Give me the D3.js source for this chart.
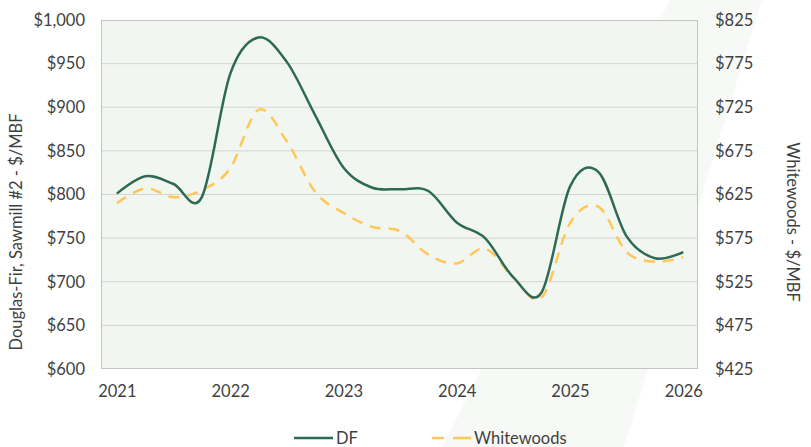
<!DOCTYPE html>
<html>
<head>
<meta charset="utf-8">
<script src="https://cdn.jsdelivr.net/npm/d3@7"></script>
<style>
  html, body { margin: 0; padding: 0; background: #ffffff; }
  svg { display: block; font-family: "Lato", "Open Sans", sans-serif; }
</style>
</head>
<body>
<svg id="chart" width="811" height="447"></svg>
<script>
// ---- Data ----
const quarters = [2021, 2021.25, 2021.5, 2021.75, 2022, 2022.25, 2022.5, 2022.75,
                  2023, 2023.25, 2023.5, 2023.75, 2024, 2024.25, 2024.5, 2024.75,
                  2025, 2025.25, 2025.5, 2025.75, 2026];
const dfValues = [801, 821, 812, 797, 938, 980, 952, 891, 831, 808, 806, 804,
                  768, 750, 705, 688, 809, 826, 752, 727, 734];
const wwValues = [615, 632, 622, 630, 655, 722, 686, 628, 604, 588, 583, 556,
                  546, 563, 530, 507, 592, 611, 559, 548, 553];
const xTicks = [2021, 2022, 2023, 2024, 2025, 2026];
const leftTicks = [600, 650, 700, 750, 800, 850, 900, 950, 1000];
const rightTicks = [425, 475, 525, 575, 625, 675, 725, 775, 825];
const seriesNames = ["DF", "Whitewoods"];
const leftTitle = "Douglas-Fir, Sawmill #2 - $/MBF";
const rightTitle = "Whitewoods - $/MBF";

// ---- Layout ----
const svg = d3.select("#chart");
const plot = { left: 101, right: 698, top: 20, bottom: 369 };
const textColor = "#3f3f3f";

// background diagonal band
svg.append("polygon")
  .attr("points", "670,0 762,0 624,447 442,447")
  .attr("fill", "#f7f9f6");

const x = d3.scaleLinear().domain([2020.86, 2026.13]).range([plot.left, plot.right]);
const yL = d3.scaleLinear().domain([600, 1000]).range([plot.bottom, plot.top]);
const yR = d3.scaleLinear().domain([425, 825]).range([plot.bottom, plot.top]);

// plot background
svg.append("rect")
  .attr("x", plot.left).attr("y", plot.top)
  .attr("width", plot.right - plot.left).attr("height", plot.bottom - plot.top)
  .attr("fill", "#f2f6f0");

// gridlines
svg.append("g").selectAll("line")
  .data(leftTicks.slice(1, -1))
  .join("line")
  .attr("x1", plot.left).attr("x2", plot.right)
  .attr("y1", d => yL(d)).attr("y2", d => yL(d))
  .attr("stroke", "#d4d4d4").attr("stroke-width", 1);

// plot border
svg.append("rect")
  .attr("x", plot.left + 0.5).attr("y", plot.top + 0.5)
  .attr("width", plot.right - plot.left - 1).attr("height", plot.bottom - plot.top - 1)
  .attr("fill", "none").attr("stroke", "#c4c4c4").attr("stroke-width", 1);

const fmt = d => "$" + d3.format(",")(d);

// left axis
const gL = svg.append("g")
  .attr("transform", `translate(${plot.left - 16},0)`)
  .call(d3.axisLeft(yL).tickValues(leftTicks).tickFormat(fmt).tickSize(0).tickPadding(0));
gL.select(".domain").remove();
gL.selectAll("text").attr("font-size", 16.5).attr("fill", textColor)
  .attr("font-family", "Lato, 'Open Sans', sans-serif");

// right axis
const gR = svg.append("g")
  .attr("transform", `translate(${plot.right + 17},0)`)
  .call(d3.axisRight(yR).tickValues(rightTicks).tickFormat(fmt).tickSize(0).tickPadding(0));
gR.select(".domain").remove();
gR.selectAll("text").attr("font-size", 16.5).attr("fill", textColor)
  .attr("font-family", "Lato, 'Open Sans', sans-serif");

// bottom axis
const gB = svg.append("g")
  .attr("transform", `translate(0,${plot.bottom + 16})`)
  .call(d3.axisBottom(x).tickValues(xTicks).tickFormat(d3.format("d")).tickSize(0).tickPadding(0));
gB.select(".domain").remove();
gB.selectAll("text").attr("font-size", 16.5).attr("fill", textColor)
  .attr("font-family", "Lato, 'Open Sans', sans-serif");

// axis titles
svg.append("text")
  .attr("transform", `translate(22,232) rotate(-90)`)
  .attr("text-anchor", "middle")
  .attr("font-size", 16.5).attr("fill", textColor)
  .text(leftTitle);
svg.append("text")
  .attr("transform", `translate(787,222) rotate(90)`)
  .attr("text-anchor", "middle")
  .attr("font-size", 16.5).attr("fill", textColor)
  .text(rightTitle);

// lines
const curve = d3.curveCatmullRom.alpha(0);
const lineL = d3.line().x((d, i) => x(quarters[i])).y(d => yL(d)).curve(curve);
const lineR = d3.line().x((d, i) => x(quarters[i])).y(d => yR(d)).curve(curve);

const dfColor = "#2d6a56";
const wwColor = "#ffc75a";

svg.append("path")
  .attr("d", lineR(wwValues))
  .attr("fill", "none").attr("stroke", wwColor)
  .attr("stroke-width", 2.5).attr("stroke-dasharray", "11,8");

svg.append("path")
  .attr("d", lineL(dfValues))
  .attr("fill", "none").attr("stroke", dfColor)
  .attr("stroke-width", 2.5);

// legend
const legY = 438;
const leg = svg.append("g");
leg.append("line").attr("x1", 294).attr("x2", 333).attr("y1", legY).attr("y2", legY)
  .attr("stroke", dfColor).attr("stroke-width", 2.5);
leg.append("text").attr("x", 336).attr("y", legY).attr("dy", "0.35em")
  .attr("font-size", 16.5).attr("fill", textColor).text(seriesNames[0]);
leg.append("line").attr("x1", 432).attr("x2", 471).attr("y1", legY).attr("y2", legY)
  .attr("stroke", wwColor).attr("stroke-width", 2.5).attr("stroke-dasharray", "12,9,18");
leg.append("text").attr("x", 474).attr("y", legY).attr("dy", "0.35em")
  .attr("font-size", 16.5).attr("fill", textColor).text(seriesNames[1]);
</script>
</body>
</html>
